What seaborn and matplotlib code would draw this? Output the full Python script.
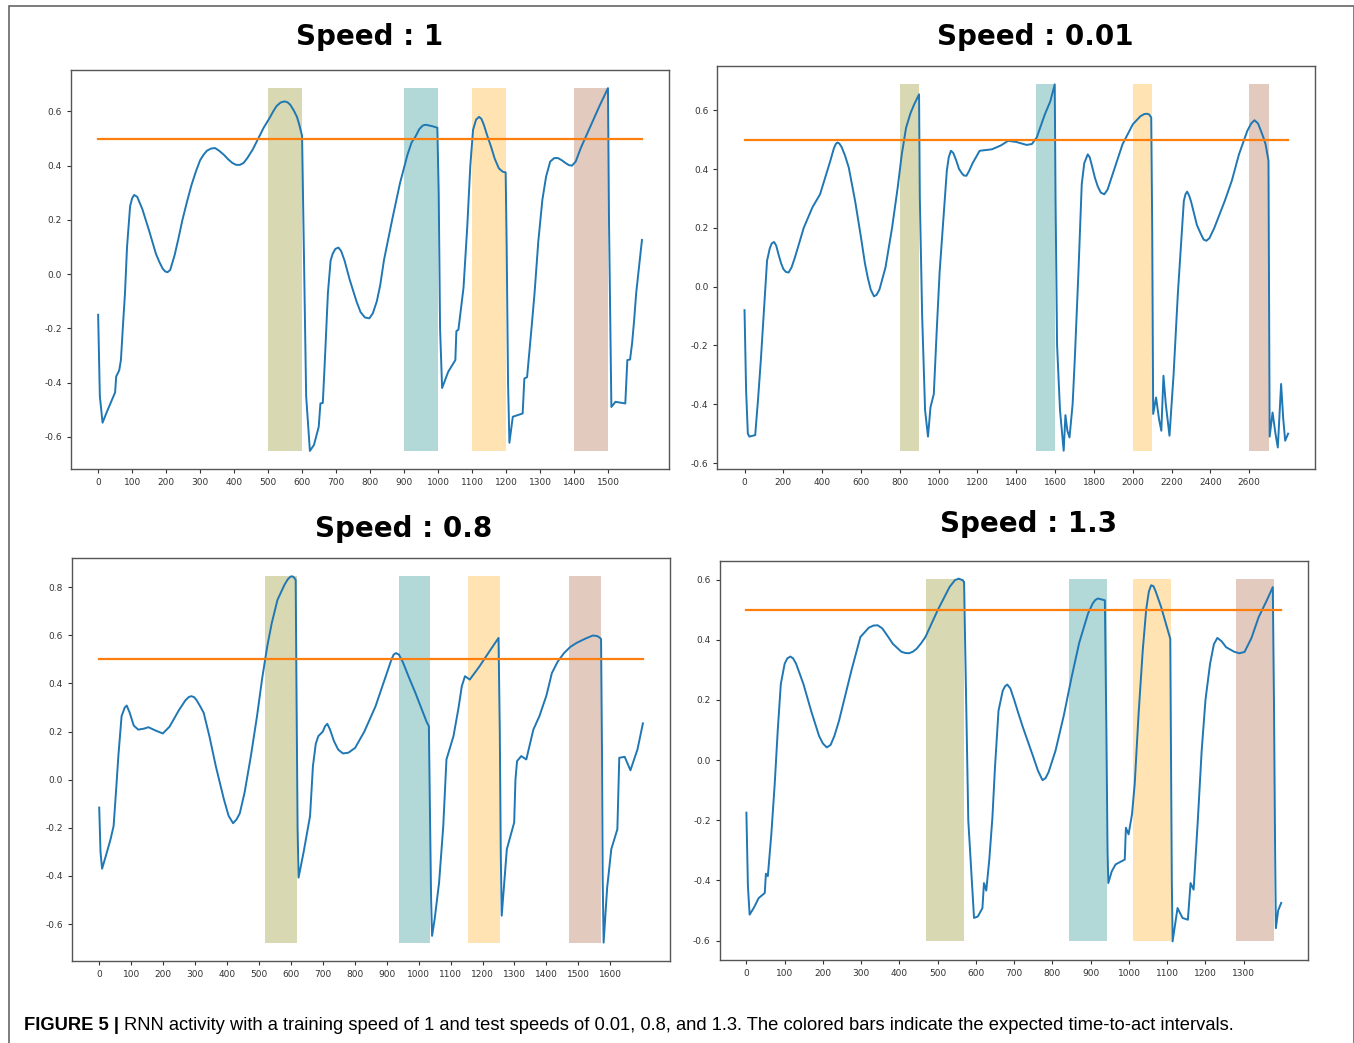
import matplotlib
matplotlib.use("Agg")
import matplotlib.pyplot as plt
import pandas as pd
import seaborn as sns
from matplotlib.patches import Rectangle

# ---------------- data ----------------
# Speed : 1
x_s1 = [0, 5, 13, 25, 40, 50, 53, 62, 67, 73, 79, 85, 94, 100, 106, 115, 130, 150, 170, 180,
        190, 197, 204, 212, 225, 236, 248, 262, 275, 288, 300, 310, 320, 332, 344, 356, 370, 383,
        395, 406, 417, 428, 440, 455, 469, 487, 504, 515, 525, 537, 548, 557, 565, 575, 585, 592,
        597, 600, 605, 612, 623, 635, 649, 654, 661, 667, 676, 684, 690, 698, 707, 715, 725, 740,
        760, 772, 785, 798, 808, 820, 830, 841, 865, 888, 910, 922, 934, 945, 955, 964, 975, 985,
        998, 1002, 1006, 1012, 1030, 1051, 1054, 1060, 1075, 1086, 1095, 1103, 1112, 1121, 1128,
        1135, 1145, 1156, 1167, 1179, 1190, 1199, 1202, 1206, 1210, 1220, 1235, 1249, 1254,
        1262, 1275, 1284, 1295, 1307, 1318, 1330, 1342, 1353, 1364, 1375, 1385, 1394, 1405,
        1420, 1450, 1475, 1500, 1503, 1510, 1522, 1551, 1557, 1565, 1571, 1577, 1583, 1600]
y_s1 = [-0.15, -0.45, -0.548, -0.51, -0.465, -0.436, -0.378, -0.355, -0.317, -0.19, -0.07, 0.10,
        0.25, 0.28, 0.292, 0.285, 0.24, 0.16, 0.075, 0.045, 0.02, 0.01, 0.007, 0.015, 0.07, 0.13,
        0.20, 0.27, 0.33, 0.38, 0.42, 0.44, 0.455, 0.463, 0.465, 0.455, 0.44, 0.423, 0.41, 0.403,
        0.403, 0.41, 0.43, 0.46, 0.495, 0.54, 0.575, 0.60, 0.62, 0.633, 0.637, 0.634, 0.625,
        0.605, 0.58, 0.55, 0.525, 0.51, 0.10, -0.45, -0.652, -0.63, -0.563, -0.477, -0.475,
        -0.32, -0.07, 0.05, 0.075, 0.093, 0.098, 0.085, 0.05, -0.02, -0.10, -0.14, -0.16, -0.163,
        -0.145, -0.10, -0.04, 0.052, 0.20, 0.335, 0.44, 0.485, 0.508, 0.535, 0.548, 0.551,
        0.548, 0.545, 0.54, 0.30, -0.20, -0.42, -0.36, -0.317, -0.21, -0.205, -0.05, 0.175,
        0.40, 0.532, 0.57, 0.58, 0.572, 0.55, 0.51, 0.47, 0.425, 0.39, 0.378, 0.375, 0.10,
        -0.40, -0.622, -0.526, -0.52, -0.514, -0.385, -0.38, -0.20, -0.07, 0.12, 0.274, 0.36,
        0.415, 0.428, 0.428, 0.42, 0.41, 0.402, 0.40, 0.415, 0.465, 0.55, 0.62, 0.686, 0.20,
        -0.49, -0.471, -0.477, -0.317, -0.315, -0.255, -0.17, -0.07, 0.126]
bars_s1 = [(500, 600), (900, 1000), (1100, 1200), (1400, 1500)]
xticks_s1 = list(range(0, 1501, 100))

# Speed : 0.01
x_s001 = [0, 8, 17, 25, 42, 55, 70, 84, 100, 116, 130, 140, 152, 163, 175, 188, 200, 213, 227,
          242, 260, 305, 350, 389, 420, 442, 460, 470, 478, 488, 500, 518, 537, 570, 600, 620,
          635, 650, 667, 680, 695, 726, 760, 789, 810, 832, 855, 874, 899, 903, 915, 930, 945,
          958, 975, 990, 1005, 1021, 1042, 1052, 1063, 1075, 1090, 1105, 1120, 1130, 1143, 1158,
          1175, 1211, 1274, 1320, 1358, 1400, 1453, 1480, 1505, 1547, 1575, 1598, 1602, 1610,
          1625, 1644, 1653, 1663, 1674, 1690, 1701, 1720, 1737, 1750, 1768, 1778, 1790, 1805,
          1820, 1835, 1853, 1870, 1890, 1947, 2000, 2040, 2060, 2074, 2085, 2095, 2100, 2105,
          2120, 2135, 2147, 2158, 2170, 2189, 2210, 2232, 2263, 2272, 2280, 2290, 2300, 2315,
          2330, 2350, 2365, 2379, 2395, 2420, 2474, 2510, 2547, 2590, 2610, 2627, 2645, 2660,
          2674, 2684, 2699, 2705, 2720, 2735, 2747, 2764, 2775, 2785, 2800]
y_s001 = [-0.08, -0.35, -0.50, -0.51, -0.507, -0.505, -0.38, -0.25, -0.08, 0.088, 0.13, 0.147,
          0.152, 0.14, 0.11, 0.08, 0.06, 0.05, 0.048, 0.065, 0.10, 0.20, 0.27, 0.314, 0.38,
          0.428, 0.47, 0.485, 0.49, 0.487, 0.475, 0.445, 0.405, 0.29, 0.167, 0.08, 0.03, -0.01,
          -0.033, -0.028, -0.01, 0.065, 0.20, 0.337, 0.45, 0.54, 0.59, 0.62, 0.654, 0.30, -0.10,
          -0.42, -0.51, -0.41, -0.365, -0.15, 0.05, 0.20, 0.394, 0.44, 0.462, 0.455, 0.43, 0.40,
          0.385, 0.378, 0.377, 0.395, 0.42, 0.462, 0.467, 0.48, 0.496, 0.492, 0.482, 0.485,
          0.507, 0.586, 0.63, 0.688, 0.30, -0.20, -0.42, -0.558, -0.437, -0.49, -0.513, -0.40,
          -0.25, 0.05, 0.348, 0.42, 0.45, 0.44, 0.41, 0.37, 0.34, 0.32, 0.314, 0.33, 0.37, 0.484,
          0.552, 0.58, 0.587, 0.588, 0.585, 0.575, 0.20, -0.433, -0.377, -0.45, -0.49, -0.303,
          -0.40, -0.507, -0.30, -0.025, 0.292, 0.315, 0.323, 0.31, 0.29, 0.25, 0.21, 0.18, 0.16,
          0.156, 0.165, 0.20, 0.292, 0.36, 0.45, 0.53, 0.555, 0.566, 0.555, 0.53, 0.505, 0.484,
          0.428, -0.51, -0.428, -0.50, -0.547, -0.331, -0.45, -0.524, -0.50]
bars_s001 = [(800, 900), (1500, 1600), (2000, 2100), (2600, 2700)]
xticks_s001 = list(range(0, 2601, 200))

# Speed : 0.8
x_s08 = [0, 4, 9, 20, 35, 45, 51, 60, 70, 80, 86, 95, 108, 122, 140, 154, 175, 199, 220, 250,
         270, 280, 288, 297, 305, 316, 327, 345, 365, 390, 405, 419, 430, 440, 455, 475, 494, 510,
         526, 540, 558, 580, 590, 599, 605, 610, 615, 618, 621, 624, 640, 660, 669, 678, 686, 700,
         707, 714, 722, 735, 748, 763, 780, 801, 830, 865, 904, 915, 922, 929, 938, 950, 968, 990,
         1006, 1025, 1032, 1036, 1039, 1042, 1050, 1064, 1077, 1087, 1109, 1125, 1135, 1145,
         1160, 1190, 1220, 1250, 1254, 1257, 1260, 1276, 1299, 1303, 1308, 1321, 1337, 1359,
         1378, 1400, 1417, 1435, 1455, 1475, 1494, 1520, 1545, 1558, 1565, 1571, 1574, 1576,
         1579, 1590, 1603, 1622, 1628, 1645, 1663, 1685, 1702]
y_s08 = [-0.116, -0.30, -0.37, -0.32, -0.25, -0.193, -0.08, 0.10, 0.264, 0.30, 0.308, 0.28,
         0.225, 0.208, 0.212, 0.218, 0.205, 0.192, 0.22, 0.29, 0.33, 0.343, 0.347, 0.343, 0.33,
         0.305, 0.278, 0.18, 0.056, -0.08, -0.15, -0.181, -0.165, -0.14, -0.054, 0.10, 0.264,
         0.42, 0.554, 0.65, 0.747, 0.81, 0.832, 0.844, 0.845, 0.84, 0.83, 0.30, -0.20, -0.407,
         -0.30, -0.151, 0.056, 0.15, 0.181, 0.20, 0.222, 0.232, 0.21, 0.16, 0.125, 0.109, 0.112,
         0.132, 0.20, 0.305, 0.457, 0.50, 0.52, 0.526, 0.52, 0.49, 0.43, 0.36, 0.305, 0.24,
         0.222, -0.20, -0.50, -0.649, -0.58, -0.427, -0.193, 0.084, 0.181, 0.30, 0.388, 0.43,
         0.416, 0.47, 0.53, 0.589, 0.20, -0.30, -0.565, -0.289, -0.178, 0.0, 0.077, 0.098,
         0.084, 0.208, 0.264, 0.35, 0.443, 0.49, 0.526, 0.552, 0.568, 0.585, 0.599, 0.597,
         0.592, 0.585, 0.10, -0.40, -0.677, -0.45, -0.289, -0.206, 0.091, 0.095, 0.039, 0.126,
         0.234]
bars_s08 = [(520, 620), (937, 1037), (1155, 1255), (1472, 1572)]
xticks_s08 = list(range(0, 1601, 100))

# Speed : 1.3
x_s13 = [0, 4, 8.5, 20, 32, 48, 51, 56, 65, 74, 82, 90, 100, 107, 115, 122, 130, 149, 170, 190,
         200, 210, 220, 230, 242, 255, 275, 298, 320, 332, 343, 355, 365, 383, 405, 415, 425,
         435, 445, 456, 468, 500, 531, 545, 555, 565, 569, 573, 580, 595, 605, 617, 621, 627,
         635, 643, 650, 659, 670, 676, 682, 690, 700, 711, 723, 750, 762, 774, 782, 790, 808,
         830, 850, 870, 893, 905, 912, 919, 937, 941, 944, 946, 955, 965, 989, 992, 999, 1008,
         1015, 1025, 1036, 1045, 1052, 1058, 1064, 1070, 1084, 1108, 1110, 1112, 1114, 1127,
         1140, 1154, 1161, 1169, 1180, 1190, 1200, 1212, 1222, 1231, 1242, 1254, 1275, 1288,
         1302, 1320, 1339, 1360, 1376, 1379, 1382, 1384, 1390, 1398]
y_s13 = [-0.175, -0.42, -0.514, -0.49, -0.459, -0.442, -0.378, -0.386, -0.25, -0.08, 0.10, 0.253,
         0.32, 0.338, 0.344, 0.338, 0.32, 0.253, 0.16, 0.08, 0.055, 0.042, 0.05, 0.08, 0.13,
         0.197, 0.30, 0.409, 0.44, 0.447, 0.448, 0.438, 0.42, 0.386, 0.36, 0.356, 0.355, 0.36,
         0.37, 0.387, 0.409, 0.498, 0.575, 0.598, 0.603, 0.598, 0.592, 0.30, -0.20, -0.525,
         -0.52, -0.492, -0.409, -0.434, -0.33, -0.192, -0.02, 0.164, 0.23, 0.245, 0.251, 0.238,
         0.20, 0.155, 0.108, 0.01, -0.035, -0.067, -0.06, -0.04, 0.031, 0.15, 0.275, 0.39, 0.487,
         0.52, 0.532, 0.537, 0.531, 0.10, -0.30, -0.409, -0.37, -0.347, -0.331, -0.225, -0.247,
         -0.18, -0.08, 0.15, 0.364, 0.50, 0.56, 0.581, 0.578, 0.56, 0.509, 0.403, 0.0, -0.40,
         -0.603, -0.492, -0.525, -0.531, -0.409, -0.431, -0.20, 0.03, 0.20, 0.32, 0.385, 0.406,
         0.395, 0.375, 0.36, 0.355, 0.359, 0.405, 0.475, 0.53, 0.575, 0.20, -0.30, -0.559,
         -0.50, -0.475]
bars_s13 = [(470, 570), (842, 942), (1010, 1110), (1280, 1380)]
xticks_s13 = list(range(0, 1301, 100))

threshold = 0.5
titles = ["Speed : 1", "Speed : 0.01", "Speed : 0.8", "Speed : 1.3"]
bar_colors = ["olive", "teal", "orange", "sienna"]
caption_head = "FIGURE 5 |"
caption_body = ("RNN activity with a training speed of 1 and test speeds of 0.01, 0.8, and 1.3. "
                "The colored bars indicate the expected time-to-act intervals.")

# ---------------- figure ----------------
plt.rcParams["axes.unicode_minus"] = False
fig = plt.figure(figsize=(13.54, 10.43), dpi=100)

# axes boxes: left, bottom, width, height (figure fraction)
boxes = [
    [0.0524, 0.5503, 0.4418, 0.3826],
    [0.5298, 0.5503, 0.4416, 0.3864],
    [0.0532, 0.0787, 0.4417, 0.3863],
    [0.5315, 0.0800, 0.4345, 0.3826],
]
title_pos = [(0.2733, 0.9645), (0.7645, 0.9645), (0.2984, 0.4928), (0.7593, 0.4976)]

panels = [
    (x_s1, y_s1, bars_s1, xticks_s1),
    (x_s001, y_s001, bars_s001, xticks_s001),
    (x_s08, y_s08, bars_s08, xticks_s08),
    (x_s13, y_s13, bars_s13, xticks_s13),
]

for (xs, ys, bars, xticks), box, title, tpos in zip(panels, boxes, titles, title_pos):
    ax = fig.add_axes(box)
    df = pd.DataFrame({"t": xs, "activity": ys})
    thr = pd.DataFrame({"t": [xs[0], xs[-1]], "level": [threshold, threshold]})
    sns.lineplot(data=df, x="t", y="activity", ax=ax, color="#1f77b4", lw=1.4,
                 estimator=None, sort=False)
    sns.lineplot(data=thr, x="t", y="level", ax=ax, color="#ff7f0e", lw=1.6, estimator=None)
    lo, hi = min(ys), max(ys)
    for (a, b), c in zip(bars, bar_colors):
        ax.fill_between([a, b], [lo, lo], [hi, hi], color=c, alpha=0.3, lw=0)
    ax.set_xticks(xticks)
    ax.set_xlabel("")
    ax.set_ylabel("")
    ax.tick_params(labelsize=6.5, colors="#333333", length=3, width=0.8)
    for sp in ax.spines.values():
        sp.set_color("#555555")
        sp.set_linewidth(1.0)
    fig.text(tpos[0], tpos[1], title, ha="center", va="center", fontsize=20,
             fontweight="bold", family="DejaVu Sans", color="black")

# outer frame of the figure panel
fig.add_artist(Rectangle((0.0063, -0.01), 0.9935, 1.0043, transform=fig.transFigure,
                         fill=False, edgecolor="#666666", lw=1.2))

# caption
head = fig.text(0.0177, 0.0168, caption_head, ha="left", va="center", fontsize=13.2,
                fontweight="bold", family="Liberation Sans", color="black")
fig.canvas.draw()
bb = head.get_window_extent()
x_body = (bb.x1 + 5) / fig.bbox.width
fig.text(x_body, 0.0168, caption_body, ha="left", va="center", fontsize=13.2,
         family="Liberation Sans", color="black")

fig.savefig("out.png", dpi=100)
